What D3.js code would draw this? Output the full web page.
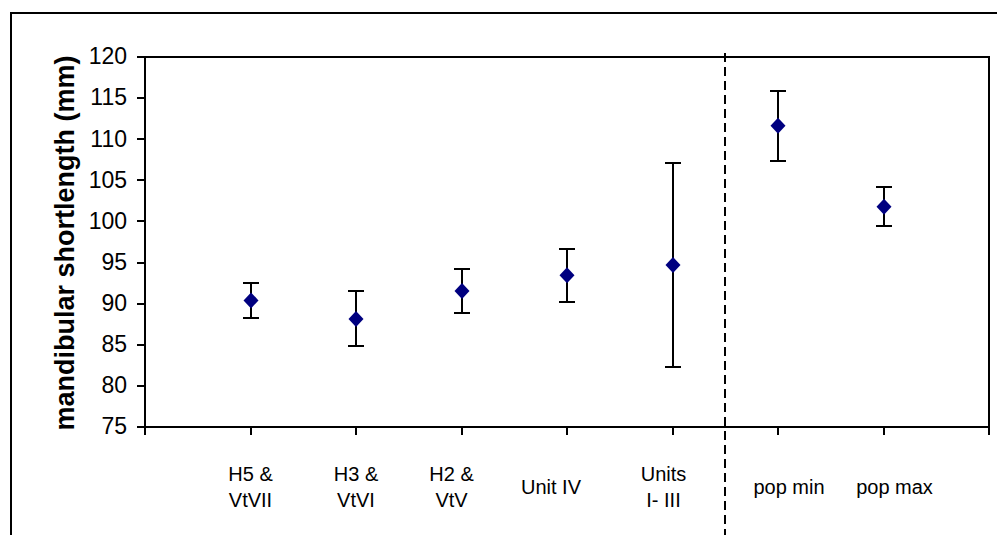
<!DOCTYPE html>
<html>
<head>
<meta charset="utf-8">
<script src="https://cdn.jsdelivr.net/npm/d3@7"></script>
<style>
  body { margin: 0; background: #fff; }
  svg { display: block; font-family: Arial, "Liberation Sans", sans-serif; }
</style>
</head>
<body>
<svg id="chart" width="997" height="535"></svg>
<script>
// data
const categories = [["H5 &", "VtVII"], ["H3 &", "VtVI"], ["H2 &", "VtV"], ["Unit IV"], ["Units", "I- III"], ["pop min"], ["pop max"]];
const xPos = [1, 2, 3, 4, 5, 6, 7];
const means = [90.4, 88.15, 91.55, 93.45, 94.7, 111.65, 101.8];
const errs = [2.1, 3.35, 2.65, 3.25, 12.4, 4.25, 2.4];
const yTicks = [75, 80, 85, 90, 95, 100, 105, 110, 115, 120];
const divider = 5.5;

const svg = d3.select("#chart");

// outer chart frame (runs off the right and bottom)
svg.append("rect")
  .attr("x", 11).attr("y", 13)
  .attr("width", 1100).attr("height", 600)
  .attr("fill", "none").attr("stroke", "#000").attr("stroke-width", 2);

const x = d3.scaleLinear().domain([0, 8]).range([145, 989]);
const y = d3.scaleLinear().domain([75, 120]).range([427, 57]);
const rx = v => Math.round(x(v));
const ry = v => Math.round(y(v));

// plot area border (top + right)
svg.append("path")
  .attr("d", `M${rx(0)},${ry(120)}H${rx(8)}V${ry(75)}`)
  .attr("fill", "none").attr("stroke", "#000").attr("stroke-width", 2)
  .attr("shape-rendering", "crispEdges");

// y axis
const yAxis = svg.append("g")
  .attr("transform", `translate(${rx(0)},0)`)
  .attr("shape-rendering", "crispEdges")
  .call(d3.axisLeft(y).tickValues(yTicks).tickSize(8).tickPadding(10).tickSizeOuter(0).offset(0));
yAxis.select(".domain").attr("stroke-width", 2);
yAxis.selectAll(".tick line").attr("stroke-width", 2);
yAxis.selectAll(".tick text")
  .attr("font-size", 23).attr("fill", "#000")
  .attr("font-family", "Arial, 'Liberation Sans', sans-serif");

// x axis, ticks only
const xAxis = svg.append("g")
  .attr("transform", `translate(0,${ry(75)})`)
  .attr("shape-rendering", "crispEdges")
  .call(d3.axisBottom(x).tickValues(d3.range(0, 9)).tickSize(8).tickFormat("").tickSizeOuter(0).offset(0));
xAxis.select(".domain").attr("stroke-width", 2);
xAxis.selectAll(".tick line").attr("stroke-width", 2);

// dashed divider between the sample units and the population values
svg.append("line")
  .attr("x1", rx(divider)).attr("x2", rx(divider))
  .attr("y1", 53).attr("y2", 535)
  .attr("stroke", "#000").attr("stroke-width", 2)
  .attr("stroke-dasharray", "9,5")
  .attr("shape-rendering", "crispEdges");

// y title
svg.append("text")
  .attr("transform", `translate(74,${(y(75) + y(120)) / 2 + 1}) rotate(-90)`)
  .attr("text-anchor", "middle")
  .attr("font-size", 27).attr("font-weight", "bold")
  .text("mandibular shortlength (mm)");

// error bars
const pts = xPos.map((p, i) => ({ x: p, m: means[i], e: errs[i] }));
const cap = 8;
const bars = svg.append("g").attr("stroke", "#000").attr("stroke-width", 2)
  .attr("shape-rendering", "crispEdges");
bars.selectAll("path")
  .data(pts)
  .enter()
  .append("path")
  .attr("fill", "none")
  .attr("d", d => {
    const cx = rx(d.x), t = ry(d.m + d.e), b = ry(d.m - d.e);
    return `M${cx},${t}V${b}M${cx - cap},${t}H${cx + cap}M${cx - cap},${b}H${cx + cap}`;
  });

// diamond markers
svg.append("g").selectAll("path")
  .data(pts)
  .enter()
  .append("path")
  .attr("transform", d => `translate(${rx(d.x)},${y(d.m)})`)
  .attr("d", "M0,-8L7.5,0L0,8L-7.5,0Z")
  .attr("fill", "#000080");

// category labels (text boxes sit a little off the tick in the original)
const labelDx = [0, 0, -10, -16, -9, 11, 11];
const labels = svg.append("g")
  .attr("font-size", 20)
  .attr("text-anchor", "middle");
categories.forEach((lines, i) => {
  const lx = x(xPos[i]) + labelDx[i];
  const t = labels.append("text").attr("x", lx);
  if (lines.length == 2) {
    t.append("tspan").attr("x", lx).attr("y", 481).text(lines[0]);
    t.append("tspan").attr("x", lx).attr("y", 507).text(lines[1]);
  } else {
    t.attr("y", 494).text(lines[0]);
  }
});
</script>
</body>
</html>
